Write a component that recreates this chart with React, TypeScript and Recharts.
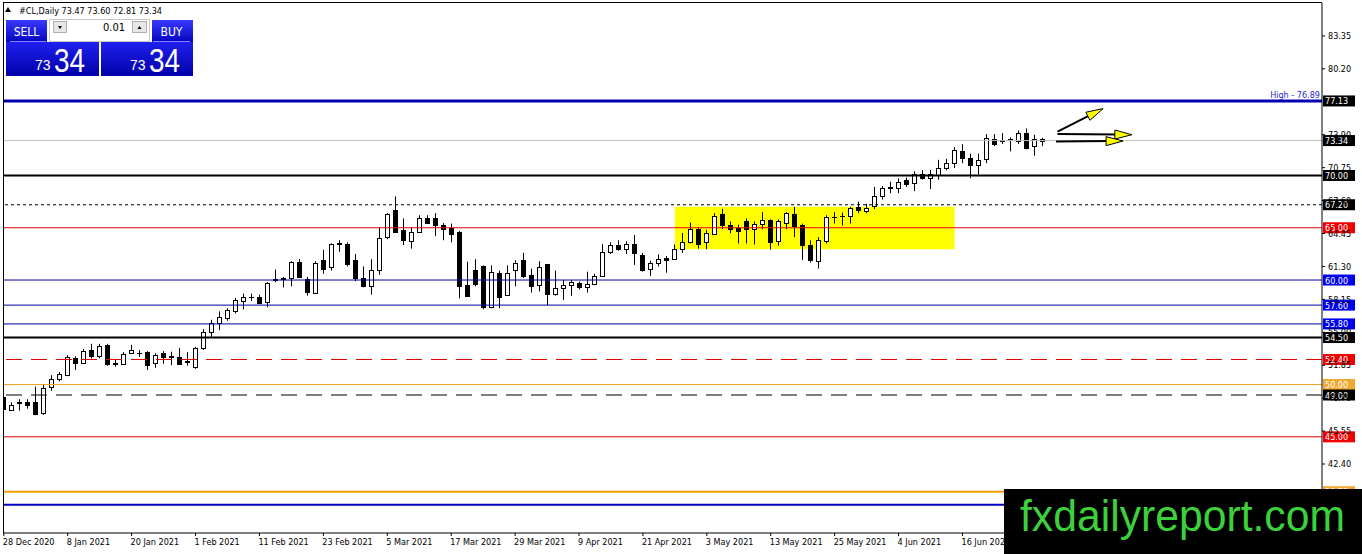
import React from 'react';
import { ComposedChart, Bar, XAxis, YAxis, ReferenceLine, ReferenceArea } from 'recharts';

// #CL daily bars, 28 Dec 2020 .. end of Jun 2021
const opens = [48.8, 47.6, 48.2, 48.35, 48.35, 47.3, 49.8, 50.5, 50.9, 52.5,
  52.1, 53.3, 52.7, 53.8, 52.0, 52.0, 53.0, 53.0, 53.1, 52.1,
  53.0, 52.7, 52.6, 52.2, 51.7, 53.45, 55.0, 55.9, 56.4, 57.0,
  58.0, 58.4, 58.4, 57.9, 60.0, 60.1, 60.2, 61.75, 60.1, 58.8,
  61.9, 61.2, 63.4, 63.45, 61.9, 60.16, 59.4, 61.0, 64.15, 66.7,
  64.8, 63.76, 64.6, 65.9, 65.9, 65.3, 64.95, 64.6, 59.5, 61.0,
  61.3, 57.45, 60.7, 58.6, 61.0, 61.9, 60.45, 59.5, 61.5, 58.7,
  59.2, 59.5, 59.7, 59.3, 59.6, 60.4, 62.7, 63.35, 62.95, 63.45,
  62.4, 61.1, 61.66, 62.1, 62.0, 63.0, 63.67, 64.86, 63.67, 64.4,
  66.3, 65.27, 64.95, 65.6, 64.86, 65.4, 65.7, 63.76, 65.5, 66.3,
  65.3, 63.35, 61.85, 63.76, 66.0, 66.1, 66.13, 67.0, 66.64, 67.1,
  68.0, 68.85, 68.85, 69.55, 69.26, 70.1, 69.74, 70.06, 70.7, 71.17,
  72.36, 71.65, 71.0, 71.6, 73.48, 73.3, 73.4, 73.31, 74.05, 72.86,
  73.47];
const highs = [49.0, 48.3, 48.6, 48.6, 49.8, 50.0, 50.9, 51.2, 52.8, 52.7,
  53.4, 53.9, 53.9, 53.9, 52.4, 53.1, 53.8, 53.3, 53.2, 53.0,
  53.2, 53.15, 53.5, 53.1, 53.6, 55.3, 56.2, 57.0, 57.3, 58.3,
  58.7, 58.7, 58.6, 59.8, 61.0, 60.3, 61.8, 62.0, 60.3, 61.8,
  62.9, 63.5, 63.8, 63.6, 62.5, 61.3, 62.0, 65.0, 66.4, 68.0,
  65.9, 65.0, 66.2, 66.2, 66.4, 65.45, 65.4, 64.7, 61.75, 62.0,
  61.4, 61.4, 60.9, 61.4, 61.9, 62.6, 61.1, 61.8, 61.5, 60.9,
  60.0, 60.0, 59.85, 60.8, 60.6, 63.45, 63.6, 63.8, 63.7, 64.3,
  62.6, 61.85, 62.45, 62.3, 63.4, 64.5, 65.5, 65.0, 64.8, 66.4,
  66.8, 65.6, 65.3, 65.9, 65.6, 66.5, 65.8, 65.8, 66.5, 67.0,
  65.4, 63.8, 64.1, 66.2, 66.5, 66.45, 67.0, 67.5, 67.3, 68.9,
  69.0, 69.4, 69.7, 69.8, 70.4, 70.5, 70.55, 71.5, 71.6, 72.7,
  73.0, 72.1, 72.1, 73.96, 73.96, 74.05, 73.65, 74.3, 74.5, 73.9,
  73.6];
const lows = [47.55, 47.5, 47.5, 47.7, 47.07, 47.1, 49.4, 50.3, 50.8, 51.4,
  52.0, 52.5, 52.5, 51.8, 51.7, 51.9, 52.95, 52.65, 51.4, 51.6,
  52.0, 51.85, 51.95, 51.8, 51.5, 53.3, 54.5, 55.2, 56.1, 56.8,
  57.2, 58.0, 57.7, 57.4, 59.8, 59.3, 59.4, 60.2, 58.5, 58.7,
  60.6, 60.9, 62.7, 61.3, 59.9, 59.3, 58.6, 60.5, 63.9, 64.5,
  63.35, 63.0, 64.5, 65.4, 64.2, 63.8, 63.6, 58.25, 58.4, 59.4,
  57.2, 57.3, 57.3, 58.5, 59.4, 60.2, 58.8, 58.9, 57.6, 58.5,
  58.1, 58.5, 59.1, 58.8, 59.5, 60.3, 62.5, 62.8, 62.5, 61.45,
  60.8, 60.4, 61.3, 60.7, 61.9, 62.6, 63.5, 63.0, 62.94, 64.3,
  64.86, 64.47, 63.5, 63.5, 63.4, 64.86, 62.9, 63.3, 64.86, 64.1,
  61.9, 61.66, 61.1, 63.5, 65.4, 65.2, 65.4, 66.4, 66.4, 66.8,
  67.7, 68.3, 68.3, 68.9, 68.5, 69.6, 68.7, 69.6, 70.5, 70.7,
  71.17, 69.74, 70.1, 71.17, 72.8, 73.0, 72.3, 73.0, 72.5, 71.9,
  72.81];
const closes = [47.65, 48.0, 48.3, 48.0, 47.23, 49.7, 50.5, 51.0, 52.6, 52.1,
  53.2, 52.7, 53.7, 52.0, 52.05, 52.9, 53.3, 53.05, 51.9, 52.8,
  52.65, 52.65, 52.0, 52.25, 53.45, 55.05, 55.85, 56.5, 57.1, 58.1,
  58.4, 58.35, 57.8, 59.7, 60.1, 60.2, 61.7, 60.3, 58.9, 61.6,
  61.05, 63.45, 63.5, 61.5, 60.2, 59.4, 61.0, 64.0, 66.3, 64.6,
  63.8, 64.6, 65.9, 65.5, 65.3, 64.85, 64.4, 59.4, 58.5, 59.6,
  57.45, 60.8, 58.4, 60.65, 61.65, 60.4, 59.4, 61.2, 58.7, 59.2,
  59.5, 59.8, 59.3, 59.6, 60.4, 62.7, 63.35, 62.95, 63.45, 62.55,
  60.96, 61.65, 62.0, 61.9, 62.95, 63.6, 64.86, 63.42, 64.53, 66.13,
  65.27, 64.86, 64.72, 64.86, 65.4, 65.7, 63.67, 65.6, 66.4, 65.17,
  63.35, 61.9, 63.8, 66.0, 66.05, 66.15, 66.86, 66.7, 66.86, 68.0,
  68.8, 68.9, 69.36, 69.17, 70.1, 69.74, 70.1, 70.76, 71.17, 72.45,
  71.65, 70.96, 71.5, 73.57, 73.0, 73.35, 73.45, 74.05, 72.67, 73.5,
  73.34];

const dateLabels = ['28 Dec 2020', '8 Jan 2021', '20 Jan 2021', '1 Feb 2021', '11 Feb 2021',
  '23 Feb 2021', '5 Mar 2021', '17 Mar 2021', '29 Mar 2021', '9 Apr 2021', '21 Apr 2021',
  '3 May 2021', '13 May 2021', '25 May 2021', '4 Jun 2021', '16 Jun 2021'];
const dateBars = [0, 8, 16, 24, 32, 40, 48, 56, 64, 72, 80, 88, 96, 104, 112, 120];
// 77.05 and 39.25 sit fully under the price tags / watermark, so they are left out
const priceTicks = [83.35, 80.2, 73.9, 70.75, 67.6, 64.45, 61.3, 58.15, 55.0,
  51.85, 48.7, 45.55, 42.4];

// horizontal levels drawn on the chart
const levelPrices = [77.13, 73.34, 70.0, 67.2, 65.0, 60.0, 57.6, 55.8, 54.5, 52.4, 50.0, 49.0, 45.0, 39.75, 38.5];
const levelStyles = [
  { stroke: '#0000b0', w: 3, dash: undefined, box: '#000' },
  { stroke: '#c0c0c0', w: 1, dash: undefined, box: '#000' },
  { stroke: '#000', w: 2, dash: undefined, box: '#000' },
  { stroke: '#000', w: 1, dash: '3 3', box: '#000' },
  { stroke: '#e00000', w: 1, dash: undefined, box: '#f00000' },
  { stroke: '#0000a0', w: 1, dash: undefined, box: '#0000f0' },
  { stroke: '#0000a0', w: 1, dash: undefined, box: '#0000f0' },
  { stroke: '#0000a0', w: 1, dash: undefined, box: '#0000f0' },
  { stroke: '#000', w: 2, dash: undefined, box: '#000' },
  { stroke: '#e00000', w: 1, dash: '16 9', box: '#f00000' },
  { stroke: '#f0a020', w: 1, dash: undefined, box: '#f0a830' },
  { stroke: '#000', w: 1, dash: '16 9', box: '#000' },
  { stroke: '#e00000', w: 1, dash: undefined, box: '#f00000' },
  { stroke: '#f0a000', w: 2, dash: undefined, box: '#f0a830' },
  { stroke: '#0000c0', w: 2, dash: undefined, box: '' },
];
const highNote = 'High - 76.89';

const zoneBars = [84, 119];
const zonePrices = [62.95, 67.0];

const arrowPaths = [
  [[131.9, 74.2], [137.6, 76.4]],
  [[131.9, 73.96], [141.2, 73.9]],
  [[131.7, 73.25], [140.1, 73.3]],
];

const FONT = '"DejaVu Sans Condensed", "Liberation Sans", Arial, sans-serif';

const rows = opens.map((o, i) => ({
  bar: i, o, h: highs[i], l: lows[i], c: closes[i], span: [lows[i], highs[i]],
}));

const Candle = (props: any) => {
  const { x, y, width, height, payload } = props;
  if (!payload) return null;
  const top = Math.min(y, y + height);
  const bot = Math.max(y, y + height);
  const { o, h, l, c } = payload;
  const range = h - l || 1;
  const py = (v: number) => top + ((h - v) / range) * (bot - top);
  const cx = Math.round(x + width / 2);
  const yo = py(o);
  const yc = py(c);
  const bTop = Math.round(Math.min(yo, yc));
  const bBot = Math.round(Math.max(yo, yc));
  const bull = c >= o;
  return (
    <g>
      <line x1={cx + 0.5} x2={cx + 0.5} y1={top} y2={bot} stroke="#000" strokeWidth={1} />
      {bBot - bTop < 1 ? (
        <line x1={cx - 2} x2={cx + 3} y1={bTop + 0.5} y2={bTop + 0.5} stroke="#000" strokeWidth={1} />
      ) : (
        <rect x={cx - 1.5} y={bTop + 0.5} width={4} height={bBot - bTop} fill={bull ? '#fff' : '#000'} stroke="#000" strokeWidth={1} />
      )}
    </g>
  );
};

const DateTick = (props: any) => {
  const { x, y, payload } = props;
  const k = dateBars.indexOf(payload.value);
  return (
    <text x={x - 1} y={y + 7} fontSize={9} fontFamily={FONT} fill="#000" textAnchor="start">
      {k >= 0 ? dateLabels[k] : ''}
    </text>
  );
};

const tag = (price: number, box: string, note?: string) => (props: any) => {
  const vb = props.viewBox || {};
  const right = (vb.x || 0) + (vb.width || 0);
  const y = vb.y || 0;
  return (
    <g>
      {note && (
        <text x={right - 2} y={y - 3} textAnchor="end" fontSize={9} fill="#2828d8" fontFamily={FONT}>{note}</text>
      )}
      <rect x={right + 1} y={y - 5.5} width={32} height={11} fill={box} />
      <text x={right + 3} y={y + 3.5} fontSize={9} fill="#fff" fontFamily={FONT}>{price.toFixed(2)}</text>
    </g>
  );
};

const arrowShape = (props: any) => {
  const { x1, y1, x2, y2 } = props;
  if ([x1, y1, x2, y2].some((v) => typeof v !== 'number' || isNaN(v))) return <g />;
  const a = Math.atan2(y2 - y1, x2 - x1);
  const len = 17;
  const half = 4.5;
  const bx = x2 - len * Math.cos(a);
  const by = y2 - len * Math.sin(a);
  const nx = -Math.sin(a) * half;
  const ny = Math.cos(a) * half;
  return (
    <g>
      <line x1={x1} y1={y1} x2={bx + 4 * Math.cos(a)} y2={by + 4 * Math.sin(a)} stroke="#000" strokeWidth={2} />
      <polygon points={`${x2},${y2} ${bx + nx},${by + ny} ${bx - nx},${by - ny}`} fill="#ffff00" stroke="#000" strokeWidth={1} />
    </g>
  );
};

const grad = (id: string, from: string, to: string) => (
  <linearGradient id={id} x1="0" y1="0" x2="0" y2="1">
    <stop offset="0" stopColor={from} />
    <stop offset="1" stopColor={to} />
  </linearGradient>
);

const Overlay = () => (
  <svg width={1362} height={554} style={{ position: 'absolute', left: 0, top: 0, pointerEvents: 'none' }}>
    <defs>
      {grad('btn', '#3a3aff', '#0505c0')}
      {grad('big', '#2020f0', '#0000a8')}
    </defs>
    {/* frame */}
    <line x1={3.5} y1={2} x2={3.5} y2={533} stroke="#000" />
    <line x1={3} y1={2.5} x2={1322} y2={2.5} stroke="#000" />
    {/* header */}
    <polygon points="5,12 11,12 8,7" fill="#000" />
    <text x={19} y={14} fontSize={9} fontFamily={FONT} fill="#000">#CL,Daily  73.47 73.60 72.81 73.34</text>
    {/* one-click trading panel */}
    <rect x={6} y={20} width={41} height={22} fill="url(#btn)" />
    <rect x={152} y={20} width={41} height={22} fill="url(#btn)" />
    <rect x={6} y={42} width={93} height={34} fill="url(#big)" />
    <rect x={101} y={42} width={92} height={34} fill="url(#big)" />
    <line x1={10} y1={41.5} x2={46} y2={41.5} stroke="#8080ff" />
    <line x1={153} y1={41.5} x2={190} y2={41.5} stroke="#8080ff" />
    <rect x={49.5} y={19.5} width={100} height={22} fill="#fff" stroke="#c8c8c8" />
    <rect x={53.5} y={21.5} width={13} height={11} fill="#e6e6e6" stroke="#b0b0b0" />
    <polygon points="58,26 62,26 60,29" fill="#000" />
    <rect x={132.5} y={21.5} width={14} height={11} fill="#e6e6e6" stroke="#b0b0b0" />
    <polygon points="137.5,29 141.5,29 139.5,26" fill="#000" />
    <text x={125} y={31} textAnchor="end" fontSize={11} fontFamily={FONT} fill="#000">0.01</text>
    <text x={26.5} y={36} textAnchor="middle" fontSize={12} fontFamily={FONT} fill="#fff">SELL</text>
    <text x={171.5} y={36} textAnchor="middle" fontSize={12} fontFamily={FONT} fill="#fff">BUY</text>
    <text x={35} y={70} fontSize={14} fontFamily="Liberation Sans, Arial" fill="#fff">73</text>
    <text x={54} y={72} fontSize={33} fontFamily="Liberation Sans, Arial" fill="#fff" textLength={31} lengthAdjust="spacingAndGlyphs">34</text>
    <text x={130} y={70} fontSize={14} fontFamily="Liberation Sans, Arial" fill="#fff">73</text>
    <text x={149} y={72} fontSize={33} fontFamily="Liberation Sans, Arial" fill="#fff" textLength={31} lengthAdjust="spacingAndGlyphs">34</text>
    {/* watermark */}
    <rect x={1004} y={489} width={358} height={65} fill="#000" />
    <text x={1020} y={531} fontSize={44} fontFamily="Liberation Sans, Arial" fill="#3dd03d" textLength={325} lengthAdjust="spacingAndGlyphs">fxdailyreport.com</text>
  </svg>
);

export default function App() {
  return (
    <div style={{ position: 'absolute', left: 0, top: 0, width: 1362, height: 554, background: '#fff', overflow: 'hidden' }}>
      <ComposedChart width={1362} height={554} data={rows} margin={{ top: 3, right: 0, bottom: 0, left: 3 }}>
        <XAxis
          dataKey="bar"
          type="number"
          domain={[-0.1, 165]}
          allowDataOverflow
          ticks={dateBars}
          interval={0}
          height={21}
          tickSize={3}
          tickMargin={2}
          tickLine={{ stroke: '#000' }}
          axisLine={{ stroke: '#000' }}
          tick={<DateTick />}
        />
        <YAxis
          orientation="right"
          type="number"
          domain={[35.8, 86.5]}
          allowDataOverflow
          ticks={priceTicks}
          interval={0}
          width={40}
          tickSize={3}
          tickMargin={3}
          tickLine={{ stroke: '#000' }}
          axisLine={{ stroke: '#000' }}
          tickFormatter={(v: number) => v.toFixed(2)}
          tick={{ fontSize: 9, fill: '#000', fontFamily: FONT }}
        />
        <ReferenceArea
          x1={zoneBars[0]}
          x2={zoneBars[1]}
          y1={zonePrices[0]}
          y2={zonePrices[1]}
          fill="#ffff00"
          fillOpacity={1}
          stroke="none"
        />
        {levelPrices.map((p, i) => {
          const s = levelStyles[i];
          return (
            <ReferenceLine
              key={p}
              y={p}
              stroke={s.stroke}
              strokeWidth={s.w}
              strokeDasharray={s.dash}
              label={s.box ? tag(p, s.box, i === 0 ? highNote : undefined) : undefined}
            />
          );
        })}
        <Bar dataKey="span" barSize={5} shape={<Candle />} isAnimationActive={false} />
        {arrowPaths.map((seg, i) => (
          <ReferenceLine
            key={`a${i}`}
            segment={[{ x: seg[0][0], y: seg[0][1] }, { x: seg[1][0], y: seg[1][1] }]}
            shape={arrowShape}
          />
        ))}
      </ComposedChart>
      <Overlay />
    </div>
  );
}
